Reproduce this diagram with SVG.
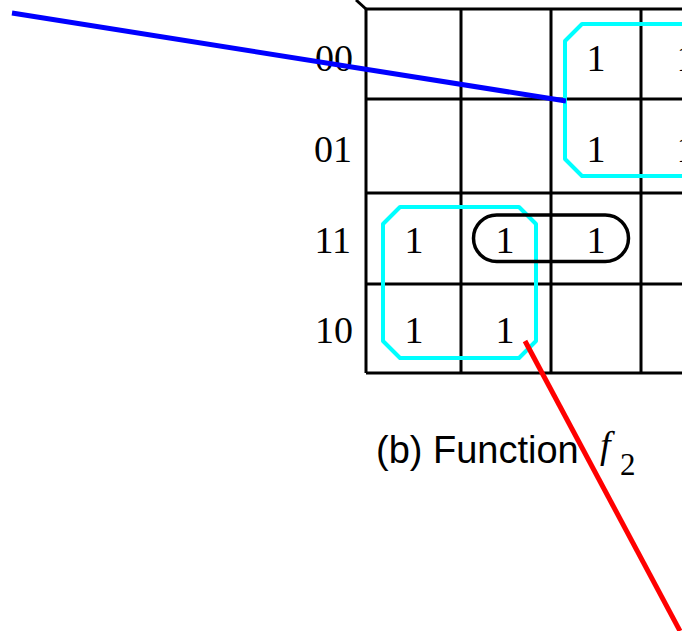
<svg xmlns="http://www.w3.org/2000/svg" width="682" height="631" viewBox="0 0 682 631">
  <style>
    .grid { stroke: #000; stroke-width: 3; fill: none; }
    .num { font-family: "Liberation Serif", "Times New Roman", serif; font-size: 38px; fill: #000; }
    .cap { font-family: "Liberation Sans", Arial, sans-serif; font-size: 38px; fill: #000; }
    .cyan { stroke: #00FFFF; stroke-width: 4; fill: none; stroke-linejoin: round; }
    .pill { stroke: #000; stroke-width: 3.5; fill: none; }
  </style>
  <rect width="682" height="631" fill="#fff"/>
  <g id="grid" class="grid">
    <line x1="356" y1="0" x2="366" y2="9"/>
    <line x1="366" y1="9" x2="682" y2="9"/>
    <line x1="366" y1="99" x2="682" y2="99"/>
    <line x1="366" y1="193" x2="682" y2="193"/>
    <line x1="366" y1="284" x2="682" y2="284"/>
    <line x1="366" y1="373" x2="682" y2="373"/>
    <line x1="366" y1="9" x2="366" y2="373"/>
    <line x1="461" y1="9" x2="461" y2="373"/>
    <line x1="551" y1="9" x2="551" y2="373"/>
    <line x1="641" y1="9" x2="641" y2="373"/>
  </g>
  <g id="row-labels" class="num" text-anchor="end">
    <text x="353" y="71">00</text>
    <text x="352" y="162">01</text>
    <text x="351" y="253">11</text>
    <text x="353" y="343">10</text>
  </g>
  <g id="cells" class="num" text-anchor="middle">
    <text x="596" y="71">1</text>
    <text x="686" y="71">1</text>
    <text x="596" y="162">1</text>
    <text x="686" y="162">1</text>
    <text x="414" y="253">1</text>
    <text x="505" y="253">1</text>
    <text x="596" y="253">1</text>
    <text x="414" y="343">1</text>
    <text x="505" y="343">1</text>
  </g>
  <g id="group-top">
    <path class="cyan" d="M 720 24 L 582 24 L 565 41 L 565 159 L 582 176 L 720 176"/>
  </g>
  <g id="group-left">
    <path class="cyan" d="M 400 207 L 519 207 L 536 224 L 536 341 L 519 358 L 400 358 L 383 341 L 383 224 Z"/>
  </g>
  <g id="group-pill">
    <rect class="pill" x="473.5" y="215" width="155" height="46.5" rx="23.25" ry="23.25"/>
  </g>
  <g id="caption">
    <text class="cap" x="376" y="463">(b) Function</text>
    <text x="600" y="458" font-family="'Liberation Serif', 'Times New Roman', serif" font-style="italic" font-size="38">f</text>
    <text x="620" y="475" font-family="'Liberation Serif', 'Times New Roman', serif" font-size="31">2</text>
  </g>
  <g id="connectors" stroke-width="5" stroke-linecap="butt">
    <line x1="12" y1="13" x2="566" y2="101" stroke="#0000FF"/>
    <line x1="525" y1="341" x2="680" y2="631" stroke="#FF0000"/>
  </g>
</svg>
